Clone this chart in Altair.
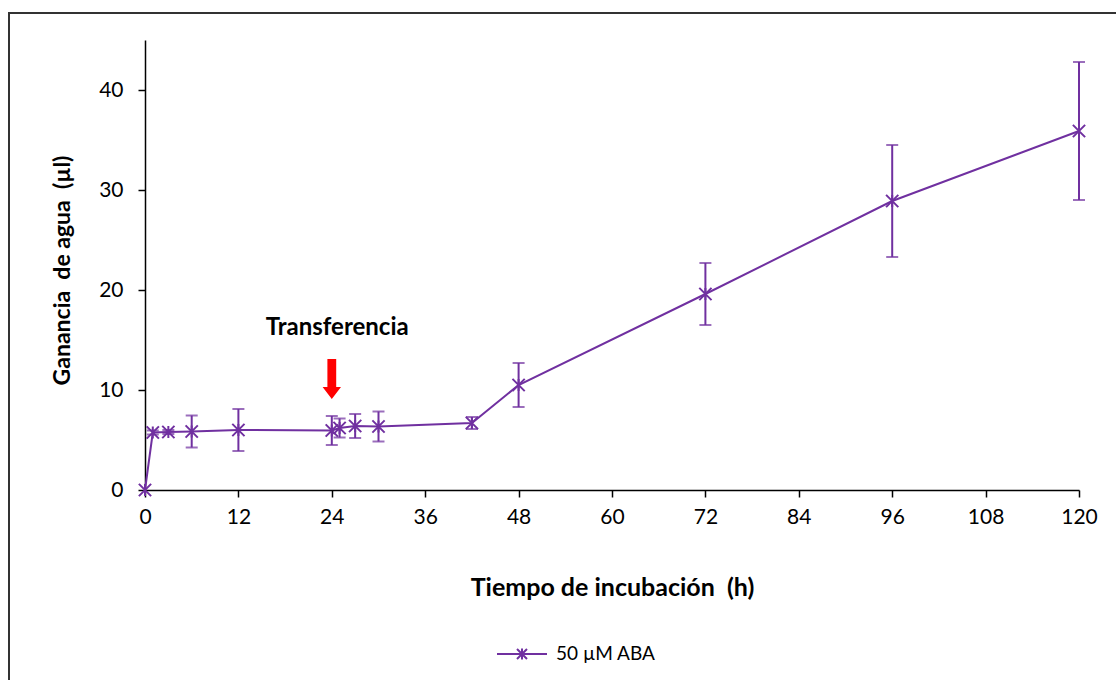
import altair as alt
import pandas as pd

# ---- data ----
hours = [0, 1, 3, 6, 12, 24, 25, 27, 30, 42, 48, 72, 96, 120]
gain = [0.0, 5.75, 5.8, 5.85, 6.0, 5.95, 6.2, 6.4, 6.35, 6.7, 10.5, 19.6, 28.9, 35.9]
err = [0.0, 0.2, 0.2, 1.6, 2.1, 1.45, 0.95, 1.2, 1.5, 0.6, 2.2, 3.1, 5.6, 6.9]
series_name = "50 µM ABA"
x_ticks = [0, 12, 24, 36, 48, 60, 72, 84, 96, 108, 120]
y_ticks = [0, 10, 20, 30, 40]
x_title = "Tiempo de incubación\u00a0\u00a0(h)"
y_title = "Ganancia\u00a0\u00a0de agua\u00a0\u00a0(µl)"
annot_label = ["Transferencia"]
annot_x = [24.7]
annot_y = [16.2]
arrow_x = [24.0]
arrow_y = [11.1]

PURPLE = "#7030A0"
FONT = "Lato"

df = pd.DataFrame({
    "h": hours,
    "g": gain,
    "lo": [g - e for g, e in zip(gain, err)],
    "hi": [g + e for g, e in zip(gain, err)],
    "serie": [series_name] * len(hours),
})
df_err = df[df["h"] > 0]
ann = pd.DataFrame({"x": annot_x, "y": annot_y, "t": annot_label})
arr = pd.DataFrame({"x": arrow_x, "y": arrow_y})

xscale = alt.Scale(domain=[0, 120], nice=False, zero=True)
yscale = alt.Scale(domain=[0, 45], nice=False, zero=True)

xaxis = alt.Axis(
    values=x_ticks, grid=False, title=x_title,
    domainColor="black", domainWidth=1.5, tickColor="black", tickWidth=1.5, tickSize=7,
    labelFont=FONT, labelFontSize=21, labelColor="black", labelPadding=9,
    titleFont=FONT, titleFontSize=25, titleFontWeight="bold", titleColor="black",
    titleX=467, titleY=97, titleBaseline="middle", labelFlush=False,
)
yaxis = alt.Axis(
    values=y_ticks, grid=False, title=y_title,
    domainColor="black", domainWidth=1.5, tickColor="black", tickWidth=1.5, tickSize=7,
    labelFont=FONT, labelFontSize=21, labelColor="black", labelPadding=15,
    titleFont=FONT, titleFontSize=23, titleFontWeight="bold", titleColor="black",
    titleX=-83, titleY=230, titleAngle=270, titleBaseline="middle",
)

X = alt.X("h:Q", scale=xscale, axis=xaxis)
Y = alt.Y("g:Q", scale=yscale, axis=yaxis)

frame = alt.Chart(df.head(1)).mark_rect(
    fillOpacity=0, stroke="#333333", strokeWidth=2
).encode(
    x=alt.value(-136), x2=alt.value(1100), y=alt.value(-27), y2=alt.value(800)
)

star_path = "M-1,-1L1,1M-1,1L1,-1M0,-1V1"
legend_path = "M-1,0H1M-0.2,-0.2L0.2,0.2M-0.2,0.2L0.2,-0.2M0,-0.22V0.22"

line = alt.Chart(df).mark_line(strokeWidth=2).encode(
    x=X, y=Y,
    color=alt.Color(
        "serie:N", scale=alt.Scale(range=[PURPLE]),
        legend=alt.Legend(
            title=None, orient="none", legendX=351, legendY=588, padding=0,
            symbolType=legend_path, symbolSize=2500, symbolStrokeWidth=2,
            labelFont=FONT, labelFontSize=19, labelColor="black", labelOffset=8,
        ),
    ),
)

bars = alt.Chart(df_err).mark_rule(color=PURPLE, strokeWidth=2).encode(
    x="h:Q", y="lo:Q", y2="hi:Q"
)
cap_lo = alt.Chart(df_err).mark_tick(color=PURPLE, orient="horizontal", size=12, thickness=2).encode(
    x="h:Q", y="lo:Q"
)
cap_hi = alt.Chart(df_err).mark_tick(color=PURPLE, orient="horizontal", size=12, thickness=2).encode(
    x="h:Q", y="hi:Q"
)
pts = alt.Chart(df).mark_point(
    shape=star_path, size=150, filled=False, color=PURPLE, strokeWidth=2, opacity=1
).encode(x="h:Q", y="g:Q")

arrow = alt.Chart(arr).mark_point(
    shape="M-0.22,-1H0.22V0.4H0.46L0,1L-0.46,0.4H-0.22Z",
    size=1600, filled=True, color="#FF0000", opacity=1, strokeWidth=0
).encode(x="x:Q", y="y:Q")

text = alt.Chart(ann).mark_text(
    font=FONT, fontSize=24, fontWeight="bold", color="black", baseline="middle", align="center"
).encode(x="x:Q", y="y:Q", text="t:N")

chart = alt.layer(frame, line, bars, cap_lo, cap_hi, pts, arrow, text).properties(
    width=934, height=450,
    autosize=alt.AutoSizeParams(type="none"),
    padding={"left": 145, "top": 40, "right": 37, "bottom": 190},
    background="white",
).configure_view(stroke=None)

chart.save("out.html", embed_options={"renderer": "svg", "actions": False})
